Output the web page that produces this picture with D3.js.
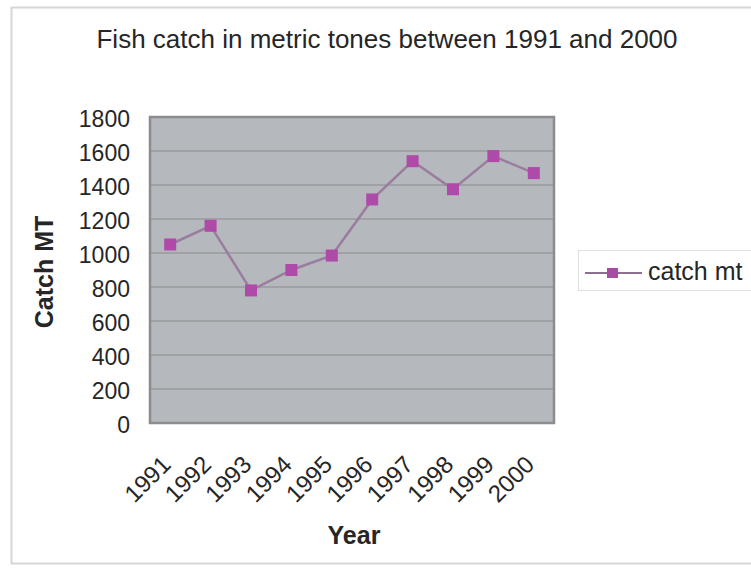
<!DOCTYPE html>
<html>
<head>
<meta charset="utf-8">
<script src="https://cdn.jsdelivr.net/npm/d3@7"></script>
<style>
  body { margin: 0; background: #fff; }
  svg { display: block; font-family: "Liberation Sans", Arial, sans-serif; }
</style>
</head>
<body>
<svg id="chart" width="751" height="569"></svg>
<script>
// Annual fish catch, metric tonnes
const years = ["1991", "1992", "1993", "1994", "1995", "1996", "1997", "1998", "1999", "2000"];
const catchMt = [1050, 1160, 780, 900, 985, 1315, 1540, 1375, 1570, 1470];
const yTicks = [0, 200, 400, 600, 800, 1000, 1200, 1400, 1600, 1800];

const svg = d3.select("#chart");
const plot = { left: 150, top: 117, right: 554, bottom: 423 };
const font = "Liberation Sans, Arial, sans-serif";
const textColor = "#262626";

// outer chart frame
svg.append("rect")
  .attr("x", 11.5).attr("y", 7.5).attr("width", 760).attr("height", 556)
  .attr("fill", "#fff").attr("stroke", "#d6d6d6").attr("stroke-width", 2);

const x = d3.scaleBand().domain(years).range([plot.left, plot.right]);
const y = d3.scaleLinear().domain([0, 1800]).range([plot.bottom, plot.top]);

// plot area
svg.append("rect")
  .attr("x", plot.left).attr("y", plot.top)
  .attr("width", plot.right - plot.left).attr("height", plot.bottom - plot.top)
  .attr("fill", "#b5b8bd").attr("stroke", "#8a8c8f").attr("stroke-width", 2.5);

// gridlines
svg.append("g").selectAll("line")
  .data(yTicks.filter(d => d > 0 && d < 1800))
  .join("line")
  .attr("x1", plot.left + 1).attr("x2", plot.right - 1)
  .attr("y1", d => y(d)).attr("y2", d => y(d))
  .attr("stroke", "#989a9d").attr("stroke-width", 1.5);

// y axis labels
const yAxis = d3.axisLeft(y).tickValues(yTicks).tickFormat(d3.format("d"))
  .tickSize(0).tickPadding(20);
svg.append("g")
  .attr("transform", `translate(${plot.left},2)`)
  .call(yAxis)
  .call(g => g.select(".domain").remove())
  .call(g => g.selectAll("text")
    .attr("font-size", 23).attr("fill", textColor).attr("font-family", font));

// x axis labels, rotated
const xAxis = d3.axisBottom(x).tickSize(0).tickPadding(0);
svg.append("g")
  .attr("transform", `translate(0,${plot.bottom})`)
  .call(xAxis)
  .call(g => g.select(".domain").remove())
  .call(g => g.selectAll("text")
    .attr("font-size", 24).attr("fill", textColor).attr("font-family", font)
    .attr("text-anchor", "end")
    .attr("y", 0).attr("dy", 0)
    .attr("transform", "translate(2,43) rotate(-45)"));

// series line
const line = d3.line().x((d, i) => x(years[i]) + x.bandwidth() / 2).y(d => y(d));
svg.append("path")
  .datum(catchMt)
  .attr("d", line)
  .attr("fill", "none").attr("stroke", "#9a7d9e").attr("stroke-width", 2.5);

// markers
svg.append("g").selectAll("rect")
  .data(catchMt)
  .join("rect")
  .attr("x", (d, i) => x(years[i]) + x.bandwidth() / 2 - 6)
  .attr("y", d => y(d) - 6)
  .attr("width", 12).attr("height", 12)
  .attr("fill", "#b04aa9");

// title
svg.append("text")
  .attr("x", 387).attr("y", 48)
  .attr("text-anchor", "middle").attr("font-size", 26).attr("fill", textColor)
  .text("Fish catch in metric tones between 1991 and 2000");

// axis titles
svg.append("text")
  .attr("transform", "translate(53,272) rotate(-90)")
  .attr("text-anchor", "middle").attr("font-size", 25).attr("font-weight", "bold").attr("fill", textColor)
  .text("Catch MT");

svg.append("text")
  .attr("x", 354).attr("y", 544)
  .attr("text-anchor", "middle").attr("font-size", 25).attr("font-weight", "bold").attr("fill", textColor)
  .text("Year");

// legend
const legend = svg.append("g");
legend.append("rect")
  .attr("x", 578.5).attr("y", 250.5).attr("width", 190).attr("height", 40)
  .attr("fill", "#fff").attr("stroke", "#e0e0e0");
legend.append("line")
  .attr("x1", 585).attr("x2", 642).attr("y1", 273).attr("y2", 273)
  .attr("stroke", "#8d6f92").attr("stroke-width", 2);
legend.append("rect")
  .attr("x", 607).attr("y", 268).attr("width", 11).attr("height", 10)
  .attr("fill", "#a64ca4");
legend.append("text")
  .attr("x", 648).attr("y", 280).attr("font-size", 25).attr("fill", textColor)
  .text("catch mt");
</script>
</body>
</html>
